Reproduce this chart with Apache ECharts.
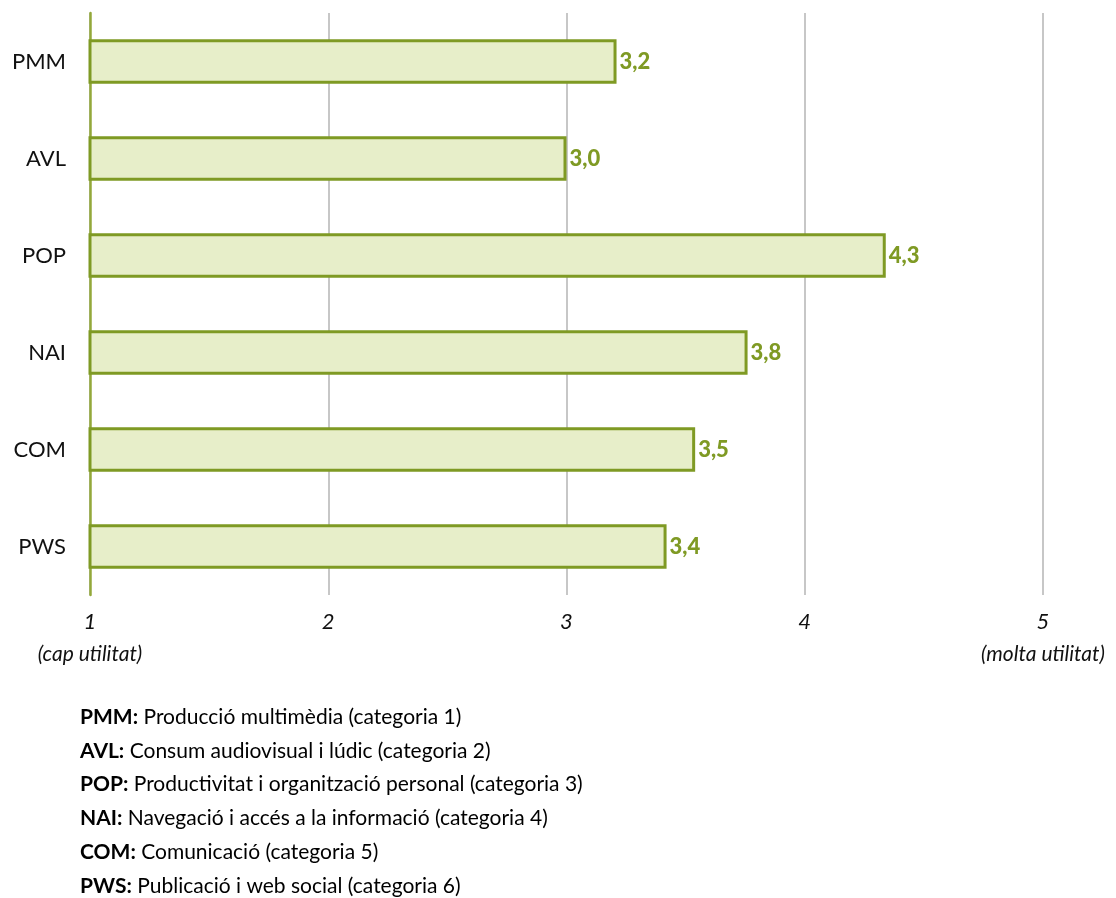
<!DOCTYPE html>
<html>
<head>
<meta charset="utf-8">
<script src="https://cdn.jsdelivr.net/npm/echarts@6/dist/echarts.min.js"></script>
<style>
  html, body { margin: 0; padding: 0; background: #ffffff; }
  #chart { width: 1116px; height: 898px; }
</style>
</head>
<body>
<div id="chart"></div>
<script>
// Categories (top to bottom) and mean usefulness scores (1–5 scale)
const categories = ['PMM', 'AVL', 'POP', 'NAI', 'COM', 'PWS'];
const scores = [3.21, 3.00, 4.34, 3.76, 3.54, 3.42];

// Scale end captions shown under the first and last ticks
const tickCaptions = { 1: '(cap utilitat)', 5: '(molta utilitat)' };

// Key explaining each abbreviation
const keyCodes = ['PMM:', 'AVL:', 'POP:', 'NAI:', 'COM:', 'PWS:'];
const keyTexts = [
  'Producció multimèdia (categoria 1)',
  'Consum audiovisual i lúdic (categoria 2)',
  'Productivitat i organització personal (categoria 3)',
  'Navegació i accés a la informació (categoria 4)',
  'Comunicació (categoria 5)',
  'Publicació i web social (categoria 6)'
];

const FONT = 'Lato, "Open Sans", sans-serif';
const OLIVE = '#7F9A24';

const chart = echarts.init(document.getElementById('chart'), null, { renderer: 'canvas' });

const keyGraphics = keyCodes.map((code, i) => ({
  type: 'text',
  x: 80,
  y: 717 + i * 33.8,
  style: {
    text: '{b|' + code + '} ' + keyTexts[i],
    rich: {
      b: { fontWeight: 'bold', fontSize: 21, fontFamily: FONT, fill: '#000' }
    },
    fontSize: 21,
    fontFamily: FONT,
    fill: '#000',
    verticalAlign: 'middle'
  }
}));

chart.setOption({
  animation: false,
  backgroundColor: '#ffffff',
  grid: { left: 90, right: 73, top: 13, bottom: 303, containLabel: false },
  xAxis: {
    type: 'value',
    min: 1,
    max: 5,
    interval: 1,
    axisLine: { show: false },
    axisTick: { show: false },
    splitLine: { show: true, lineStyle: { color: '#B4B4B4', width: 1.5 } },
    axisLabel: {
      margin: 10,
      fontFamily: FONT,
      fontStyle: 'italic',
      fontSize: 22,
      color: '#111',
      lineHeight: 33,
      formatter: v => tickCaptions[v] ? v + '\n{c|' + tickCaptions[v] + '}' : String(v),
      rich: {
        c: { fontFamily: FONT, fontStyle: 'italic', fontSize: 21, color: '#111', lineHeight: 33 }
      }
    }
  },
  yAxis: {
    type: 'category',
    inverse: true,
    data: categories,
    axisLine: { show: true, lineStyle: { color: '#93A83A', width: 2.5 } },
    axisTick: { show: false },
    splitLine: { show: false },
    axisLabel: {
      margin: 24,
      fontFamily: FONT,
      fontSize: 22,
      color: '#111'
    }
  },
  graphic: keyGraphics,
  series: [{
    type: 'bar',
    data: scores,
    barWidth: '46%',
    clip: true,
    itemStyle: {
      color: '#E7EEC9',
      borderColor: OLIVE,
      borderWidth: 3
    },
    label: {
      show: true,
      position: 'right',
      distance: 3,
      fontFamily: FONT,
      fontWeight: 900,
      fontSize: 22,
      color: OLIVE,
      formatter: p => p.value.toFixed(1).replace('.', ',')
    }
  }]
});
</script>
</body>
</html>
